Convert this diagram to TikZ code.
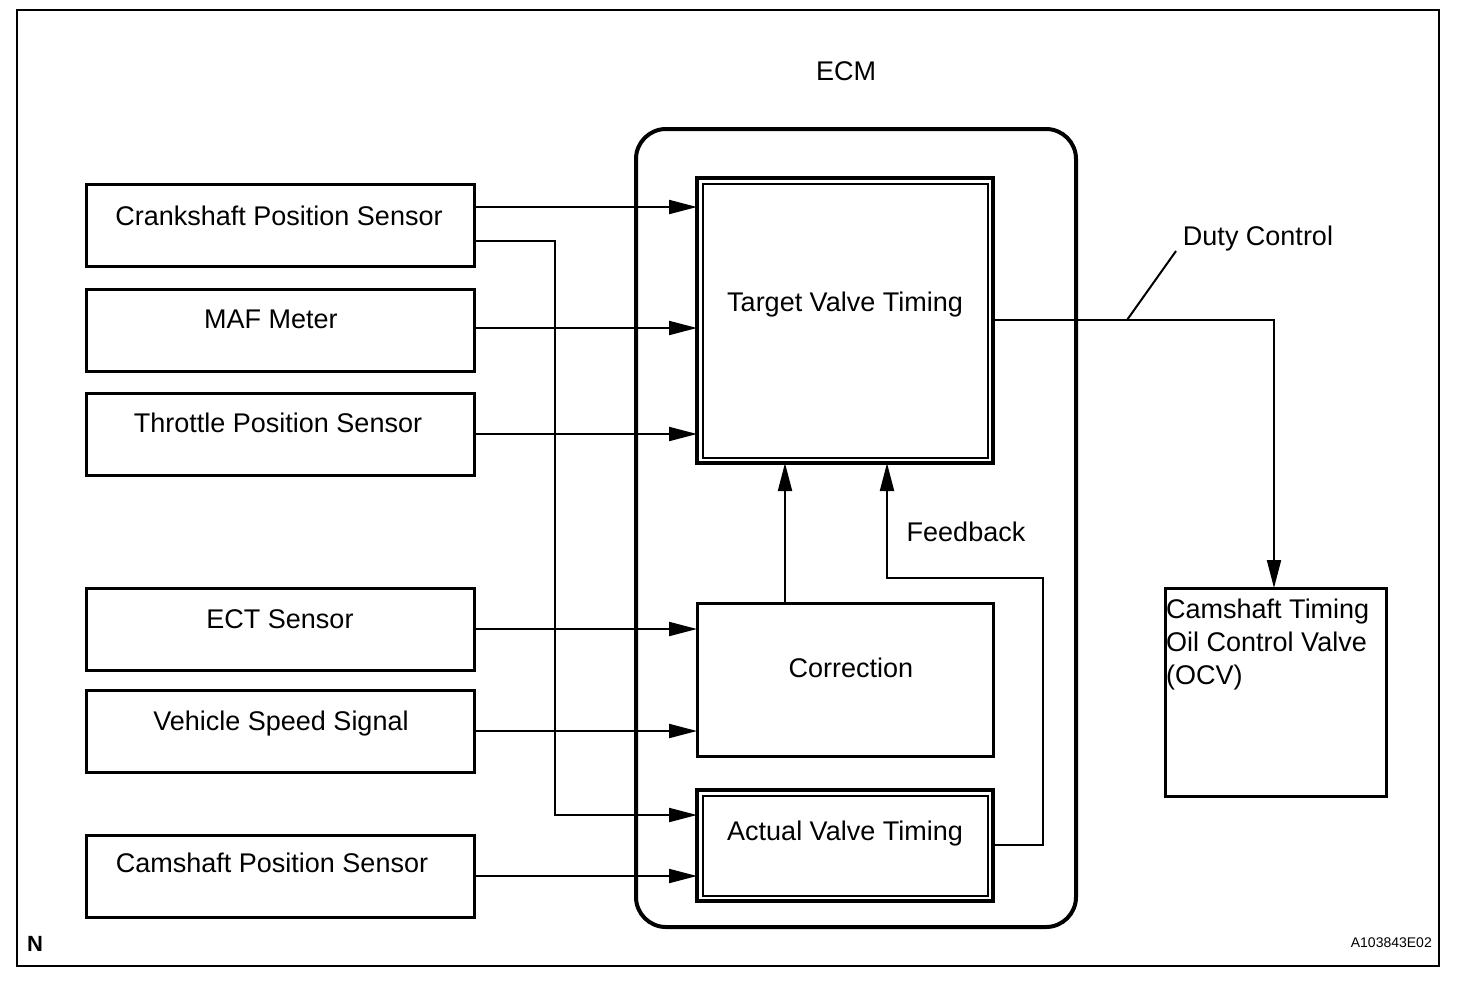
\documentclass[tikz,border=0pt]{standalone}
\usepackage{fontspec}
\setmainfont{Liberation Sans}
\usetikzlibrary{arrows.meta}
\begin{document}
\begin{tikzpicture}[x=1pt,y=-1pt,
  sbox/.style={draw, line width=3pt, minimum width=388pt, minimum height=82pt, inner sep=0pt, outer sep=0pt, anchor=north west},
  ibox/.style={draw, line width=3.5pt, inner sep=0pt, outer sep=0pt, anchor=north west},
  txt/.style={font=\fontsize{27}{33}\selectfont, inner sep=0pt, anchor=base},
  conn/.style={line width=2pt},
  arr/.style={conn, -{Triangle[length=28pt,width=14pt]}}]
\useasboundingbox (0,0) rectangle (1472,986);
% outer frame
\draw[line width=2.5pt] (17,10) rectangle (1439,966);
% ECM
\draw[line width=4pt, rounded corners=30pt] (636,129) rectangle (1076,927);
\node[txt] (ecmt) at (846,80) {ECM};
% left sensor boxes
\node[sbox] (crank) at (86,184) {};
\node[txt] (crankt) at (279,225) {Crankshaft Position Sensor};
\node[sbox] (maf) at (86,289) {};
\node[txt] (maft) at (271,328) {MAF Meter};
\node[sbox] (tps) at (86,393) {};
\node[txt] (tpst) at (278,432) {Throttle Position Sensor};
\node[sbox] (ect) at (86,588) {};
\node[txt] (ectt) at (280,628) {ECT Sensor};
\node[sbox] (vss) at (86,690) {};
\node[txt] (vsst) at (281,730) {Vehicle Speed Signal};
\node[sbox] (cmp) at (86,835) {};
\node[txt] (cmpt) at (272,872) {Camshaft Position Sensor};
% ECM internal boxes
\node[ibox, minimum width=296pt, minimum height=285pt] (tvt) at (697,178) {};
\draw[line width=2pt] ([shift={(5.5,5.5)}]tvt.north west) rectangle ([shift={(-5.5,-5.5)}]tvt.south east);
\node[txt] (tvtt) at (845,311) {Target Valve Timing};
\node[ibox, line width=3pt, minimum width=296pt, minimum height=153pt] (corr) at (697,603) {};
\node[txt] (corrt) at (851,677) {Correction};
\node[ibox, minimum width=296pt, minimum height=111pt] (avt) at (697,790) {};
\draw[line width=2pt] ([shift={(5.5,5.5)}]avt.north west) rectangle ([shift={(-5.5,-5.5)}]avt.south east);
\node[txt] (avtt) at (845,840) {Actual Valve Timing};
% OCV
\node[ibox, line width=3pt, minimum width=221pt, minimum height=208pt] (ocv) at (1165,588) {};
\node[txt, anchor=base west] (ocv1) at (1166,618) {Camshaft Timing};
\node[txt, anchor=base west] (ocv2) at (1166,651) {Oil Control Valve};
\node[txt, anchor=base west] (ocv3) at (1166,684) {(OCV)};
% connectors
\draw[arr] (crank.east |- 0,207) -- (tvt.west |- 0,207);
\draw[arr] (crank.east |- 0,241) -- (555,241) -- (555,815) -- (avt.west |- 0,815);
\draw[arr] (maf.east |- 0,328) -- (tvt.west |- 0,328);
\draw[arr] (tps.east |- 0,434) -- (tvt.west |- 0,434);
\draw[arr] (ect.east |- 0,629) -- (corr.west |- 0,629);
\draw[arr] (vss.east |- 0,731) -- (corr.west |- 0,731);
\draw[arr] (cmp.east |- 0,876) -- (avt.west |- 0,876);
\draw[arr] (corr.north -| 785,0) -- (tvt.south -| 785,0);
\draw[arr] (avt.east |- 0,845) -- (1043,845) -- (1043,578) -- (887,578) -- (tvt.south -| 887,0);
\node[txt] (fbt) at (966,541) {Feedback};
\draw[arr] (tvt.east |- 0,320) -- (1274,320) -- (ocv.north -| 1274,0);
\coordinate (dla) at (1127,320);
\coordinate (dlb) at (1176,251);
\draw[conn] (dla) -- (dlb);
\node[txt] (dutyt) at (1258,245) {Duty Control};
% corner labels
\node[font=\bfseries\fontsize{22}{26}\selectfont, inner sep=0pt, anchor=base west] (nt) at (27,951) {N};
\node[font=\fontsize{14}{17}\selectfont, inner sep=0pt, anchor=base east] (idt) at (1432,947) {A103843E02};
\end{tikzpicture}
\end{document}
